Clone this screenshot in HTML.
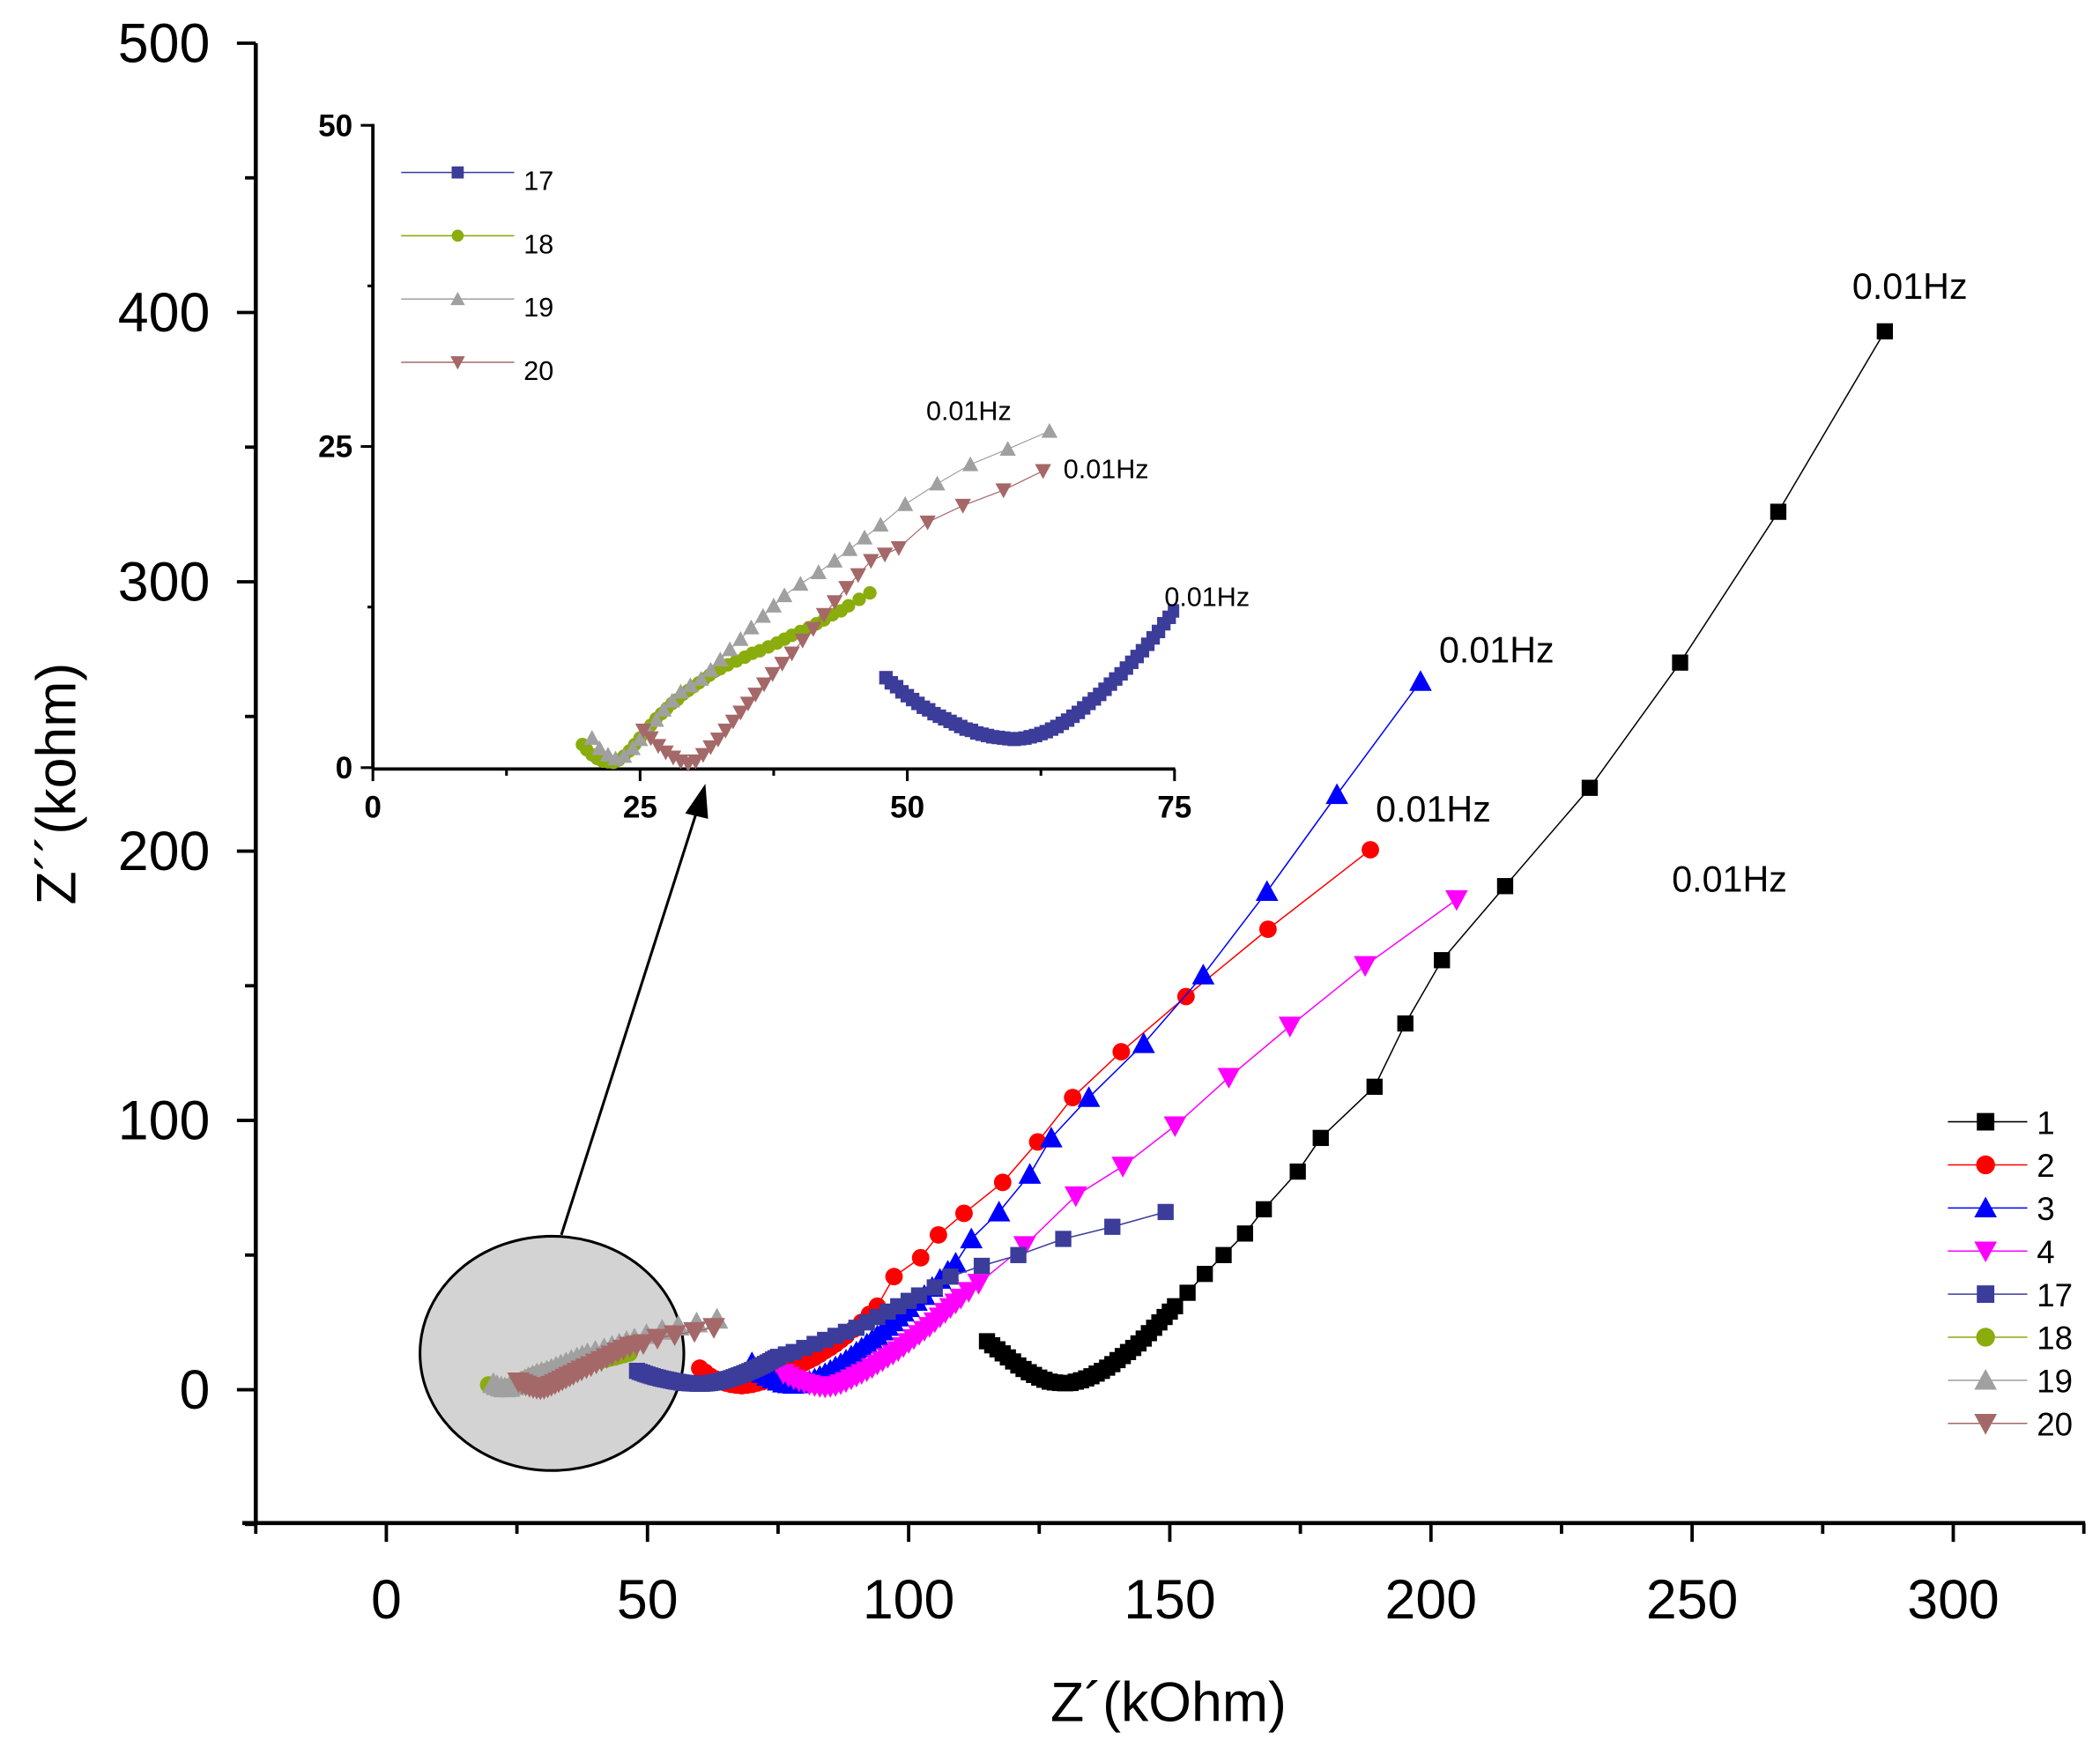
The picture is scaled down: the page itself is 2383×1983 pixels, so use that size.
<!DOCTYPE html>
<html><head><meta charset="utf-8"><title>Nyquist plot</title>
<style>html,body{margin:0;padding:0;background:#fff}svg{display:block}text{font-family:"Liberation Sans",Arial,sans-serif}</style>
</head><body>
<svg id="chart" xmlns="http://www.w3.org/2000/svg" width="2383" height="1983" viewBox="0 0 1560 1298">
<rect x="0" y="0" width="1560" height="1298" fill="#fff"/>
<g id="main-axes"></g>
<g id="zoom-ellipse-group">
<ellipse cx="410" cy="1005" rx="98" ry="87" fill="#d3d3d3" stroke="#000" stroke-width="2"/>
<line x1="417" y1="917" x2="520" y2="595" stroke="#000" stroke-width="2"/>
<polygon points="524,582 509,604 526,608" fill="#000"/>
</g>
<g id="main-series"></g>
<g id="inset"></g>
<g id="annotations">
<text x="1376" y="222" font-size="27">0.01Hz</text>
<text x="1069" y="492" font-size="27">0.01Hz</text>
<text x="1022" y="610" font-size="27">0.01Hz</text>
<text x="1242" y="662" font-size="27">0.01Hz</text>
<text x="688" y="312" font-size="20">0.01Hz</text>
<text x="790" y="355" font-size="20">0.01Hz</text>
<text x="865" y="450" font-size="20">0.01Hz</text>
</g>
<g id="main-legend"></g>
<g id="inset-legend"></g>
</svg>
<script>
const seriesNames = ["1","2","3","4","17","18","19","20"];
const seriesColors = ["#000000","#ff0000","#0000ff","#ff00ff","#3c3c9a","#8aac0c","#a0a0a0","#a56868"];
const seriesMarkers = ["square","circle","up","down","square","circle","up","down"];

const s1x = [115,116,117,118,119,120,121,122,123,124,125,126,127,128,129,130,131,132,133,134,135,136,137,138,139,140,141,142,143,144,145,146,147,148,149,150,151,153.4,156.7,160.3,164.4,168,174.5,178.9,189.2,195.1,202.1,214.2,230.4,247.7,266.5,286.9];
const s1y = [18,16.5,15,13.5,12,10.5,9,7.7,6.5,5.5,4.5,3.7,3,2.7,2.5,2.4,2.5,3,3.5,4.2,5,6,7,8.2,9.5,11,12.5,14,15.5,17.2,19,21,23,25,27,29,31,36,43,50,58,67,81,93.5,112.5,136,159.5,187,223.5,270,326,393];
const s2x = [60,61,62,63,64,65,66,67,68,69,70,71,72,73,74,75,76,77,78,79,80,81,82,83,84,85,86,87,88,89.5,91,92.5,94,97.2,102.3,105.7,110.6,118,124.7,131.4,140.7,153.1,168.8,188.4];
const s2y = [8,6.5,5,4,3,2.5,2,1.7,1.5,1.7,2,2.5,3,3.7,4.5,5.2,6,7,8,9,10,11,12,13.2,14.5,15.7,17,18.5,20,22.5,25,28,31,42,49,57.5,65.5,77,92,108.5,125.5,146,171,200.5];
const s3x = [70,71,72,73,74,75,76,77,78,79,80,81,82,83,84,85,86,87,88,89,90,91,92,93,94,95,96,97,98,99,100,101.5,103,104.5,106,107.5,109,112,117.3,123.2,127.3,134.5,145,156.4,168.6,182,198];
const s3y = [10,8,6,5,4,3.2,2.5,2.2,2,2.2,2.5,3.2,4,5,6,7.2,8.5,9.7,11,12.5,14,15.5,17,18.5,20,21.8,23.5,25.2,27,28.8,30.5,32.8,35,38,41,44,47,56,66,80,93.5,108.5,128.5,154,185,221,263];
const s4x = [76,77,78,79,80,81,82,83,84,85,86,87,88,89,90,91,92,93,94,95,96,97,98,99,100,101,102,103,104,105,106,107,108,109,110,111.5,113.4,122.2,132,141,151,161.3,173,187.4,204.9];
const s4y = [6,5,4,3.2,2.5,2,1.5,1.2,1,1.2,1.5,2.2,3,4,5,6,7,8.2,9.5,10.7,12,13.2,14.5,16,17.5,19,20.5,22,23.5,25.2,27,28.7,30.5,32.2,34,36.5,39.5,53.5,72,83,98,116,135,157.5,182];
const s17x = [48,48.5,49,49.5,50,50.5,51,51.5,52,52.5,53,53.5,54,54.5,55,55.5,56,56.5,57,57.5,58,58.5,59,59.5,60,60.5,61,61.5,62,62.5,63,63.5,64,64.5,65,65.5,66,66.5,67,67.5,68,68.5,69,69.5,70,70.5,71,71.5,72,72.5,73,73.5,74,74.5,75,76.5,78,80,82,84,86,88,90,92,94,96,98,100,102,105,108,114,121,129.6,139,149.2];
const s17y = [7,6.6,6.3,5.9,5.6,5.3,5,4.7,4.5,4.2,4,3.8,3.6,3.4,3.2,3,2.9,2.7,2.6,2.5,2.4,2.35,2.3,2.25,2.2,2.25,2.3,2.4,2.5,2.65,2.8,3,3.2,3.45,3.7,4,4.3,4.65,5,5.35,5.7,6.1,6.5,6.9,7.3,7.75,8.2,8.65,9.1,9.6,10.1,10.6,11.2,11.7,12.2,13.1,14,15.5,17,18.5,20,21.5,23,25,27,29,31,33,35,38,42,46,50,56,60.5,66];
const s18x = [19.6,20,20.5,21,21.5,22,22.5,23,23.5,24,24.5,25,25.5,26,26.5,27,27.5,28,28.5,29,29.5,30,30.5,31,31.5,32,32.5,33.2,34,34.8,35.5,36.2,37,37.8,38.5,39.2,40,40.8,41.5,42.2,43,43.8,44.5,45.5,46.5];
const s18y = [1.8,1.4,1,0.7,0.5,0.45,0.4,0.6,0.9,1.3,1.8,2.3,2.8,3.3,3.8,4.2,4.6,5,5.3,5.7,6,6.3,6.6,6.9,7.2,7.5,7.7,8,8.3,8.6,8.9,9.1,9.4,9.7,10,10.3,10.6,10.9,11.2,11.5,11.9,12.2,12.6,13.1,13.6];
const s19x = [20.5,21.2,22,22.7,23.5,24.3,25,25.7,26.5,27.2,28,28.8,29.7,30.7,31.6,32.5,33.4,34.4,35.4,36.5,37.5,38.5,40,41.7,43.2,44.6,46,47.5,49.8,52.8,55.9,59.4,63.3];
const s19y = [2.3,1.5,1,0.7,0.9,1.5,2.2,2.9,3.7,4.5,5.2,5.9,6.4,6.9,7.6,8.4,9.2,10,10.9,11.8,12.6,13.4,14.3,15.2,16.1,17,17.9,18.9,20.5,22.1,23.6,24.8,26.2];
const s20x = [25.3,26,26.7,27.4,28.1,28.8,29.5,30.2,30.9,31.6,32.3,33,33.7,34.4,35.1,35.8,36.6,37.4,38.3,39.2,40.2,41.2,42.2,43.2,44.3,45.4,46.6,47.9,49.2,51.9,55.2,59,62.7];
const s20y = [2.9,2.3,1.7,1.2,0.8,0.5,0.3,0.5,1,1.6,2.2,2.9,3.6,4.3,5,5.7,6.5,7.3,8.1,8.9,9.9,10.8,11.9,12.9,14,15,16.1,16.6,17.1,19.1,20.4,21.6,23.1];

const seriesX = [s1x,s2x,s3x,s4x,s17x,s18x,s19x,s20x];
const seriesY = [s1y,s2y,s3y,s4y,s17y,s18y,s19y,s20y];

const mainXTicks = [0,50,100,150,200,250,300];
const mainYTicks = [0,100,200,300,400,500];
const insetXTicks = [0,25,50,75];
const insetYTicks = [0,25,50];

const NS = "http://www.w3.org/2000/svg";
function mk(tag, attrs, parent){const e=document.createElementNS(NS,tag);for(const k in attrs)e.setAttribute(k,attrs[k]);parent.appendChild(e);return e;}

const mX = v => 287 + 3.88*v;
const mY = v => 1032 - 2*v;
const iX = v => 277 + 7.94*v;
const iY = v => 570 - 9.54*v;

function marker(parent, type, cx, cy, s, color){
  let e;
  if(type==="square") e=mk("rect",{x:cx-s/2,y:cy-s/2,width:s,height:s,fill:color},parent);
  else if(type==="circle") e=mk("circle",{cx:cx,cy:cy,r:s/2,fill:color},parent);
  else if(type==="up") e=mk("polygon",{points:`${cx-s*0.6},${cy+s*0.5} ${cx+s*0.6},${cy+s*0.5} ${cx},${cy-s*0.6}`,fill:color},parent);
  else e=mk("polygon",{points:`${cx-s*0.6},${cy-s*0.5} ${cx+s*0.6},${cy-s*0.5} ${cx},${cy+s*0.6}`,fill:color},parent);
  
  
  return e;
}

const ax = document.getElementById("main-axes");
let l = mk("line",{x1:190,y1:32,x2:190,y2:1131,stroke:"#000","stroke-width":3},ax);
 
l = mk("line",{x1:180,y1:1131,x2:1549,y2:1131,stroke:"#000","stroke-width":3},ax);
 
for(let v=-50; v<=500; v+=50){
  const t=mk("line",{x1:(v%100===0)?176:182,y1:mY(v),x2:190,y2:mY(v),stroke:"#000","stroke-width":2.5},ax);
   
}
for(let v=-25; v<=325; v+=25){
  const t=mk("line",{x1:mX(v),y1:1131,x2:mX(v),y2:(v%50===0)?1145:1139,stroke:"#000","stroke-width":2.5},ax);
   
}
mainYTicks.forEach(v=>{
  const t=mk("text",{x:156,y:mY(v)+14,"font-size":41,"text-anchor":"end"},ax); t.textContent=v;
   
});
mainXTicks.forEach(v=>{
  const t=mk("text",{x:mX(v),y:1202,"font-size":41,"text-anchor":"middle"},ax); t.textContent=v;
   
});
let tt=mk("text",{x:868,y:1278,"font-size":41,"text-anchor":"middle"},ax); tt.textContent="Z´(kOhm)";
 
tt=mk("text",{x:0,y:0,"font-size":41,"text-anchor":"middle",transform:"translate(56,582) rotate(-90)"},ax); tt.textContent="Z´´(kohm)";
 

const ms = document.getElementById("main-series");
seriesNames.forEach((n,i)=>{
  const g=mk("g",{},ms);
  
  
  const pts=seriesX[i].map((x,j)=>mX(x)+","+mY(seriesY[i][j])).join(" ");
  const pl=mk("polyline",{points:pts,fill:"none",stroke:seriesColors[i],"stroke-width":1},g);
   
  seriesX[i].forEach((x,j)=>marker(g,seriesMarkers[i],mX(x),mY(seriesY[i][j]),seriesMarkers[i]==="circle"?13:(seriesMarkers[i]==="square"?12:14),seriesColors[i]));
});

const ins = document.getElementById("inset");
mk("rect",{x:277,y:90,width:600,height:482,fill:"#fff"},ins);
l=mk("line",{x1:277,y1:92,x2:277,y2:571,stroke:"#000","stroke-width":2.5},ins);
 
l=mk("line",{x1:277,y1:571,x2:873,y2:571,stroke:"#000","stroke-width":2.5},ins);
 
for(let v=0; v<=50; v+=12.5){
  const t=mk("line",{x1:(v%25===0)?268:273,y1:iY(v),x2:277,y2:iY(v),stroke:"#000","stroke-width":2},ins);
   
}
for(let v=0; v<=75; v+=12.5){
  const t=mk("line",{x1:iX(v),y1:571,x2:iX(v),y2:(v%25===0)?580:576,stroke:"#000","stroke-width":2},ins);
   
}
insetYTicks.forEach(v=>{
  const t=mk("text",{x:262,y:iY(v)+8,"font-size":23,"font-weight":"bold","text-anchor":"end"},ins); t.textContent=v;
   
});
insetXTicks.forEach(v=>{
  const t=mk("text",{x:iX(v),y:607,"font-size":23,"font-weight":"bold","text-anchor":"middle"},ins); t.textContent=v;
   
});
const clip=mk("clipPath",{id:"insetClip"},ins);
mk("rect",{x:270,y:85,width:606,height:490},clip);
const ig=mk("g",{"clip-path":"url(#insetClip)"},ins);
for(let i=4;i<8;i++){
  const n=seriesNames[i];
  const g=mk("g",{},ig);
  
  
  const xs=[],ys=[];
  seriesX[i].forEach((x,j)=>{ if(x<=75.5){xs.push(x);ys.push(seriesY[i][j]);} });
  const pl=mk("polyline",{points:xs.map((x,j)=>iX(x)+","+iY(ys[j])).join(" "),fill:"none",stroke:seriesColors[i],"stroke-width":0.8},g);
   
  xs.forEach((x,j)=>marker(g,seriesMarkers[i],iX(x),iY(ys[j]),10,seriesColors[i]));
}

const lg=document.getElementById("main-legend");
seriesNames.forEach((n,i)=>{
  const y=833+32*i;
  const g=mk("g",{},lg);
  
  
  mk("line",{x1:1447,y1:y,x2:1506,y2:y,stroke:seriesColors[i],"stroke-width":1},g);
  marker(g,seriesMarkers[i],1475,y,seriesMarkers[i]==="circle"?14:(seriesMarkers[i]==="square"?13:14),seriesColors[i]);
  const t=mk("text",{x:1513,y:y+9,"font-size":24},g); t.textContent=n;
});
const ilg=document.getElementById("inset-legend");
for(let i=4;i<8;i++){
  const n=seriesNames[i];
  const y=128+47*(i-4);
  const g=mk("g",{},ilg);
  
  
  mk("line",{x1:298,y1:y,x2:382,y2:y,stroke:seriesColors[i],"stroke-width":1},g);
  marker(g,seriesMarkers[i],340,y,9,seriesColors[i]);
  const t=mk("text",{x:389,y:y+13,"font-size":20},g); t.textContent=n;
}
</script>
</body></html>
